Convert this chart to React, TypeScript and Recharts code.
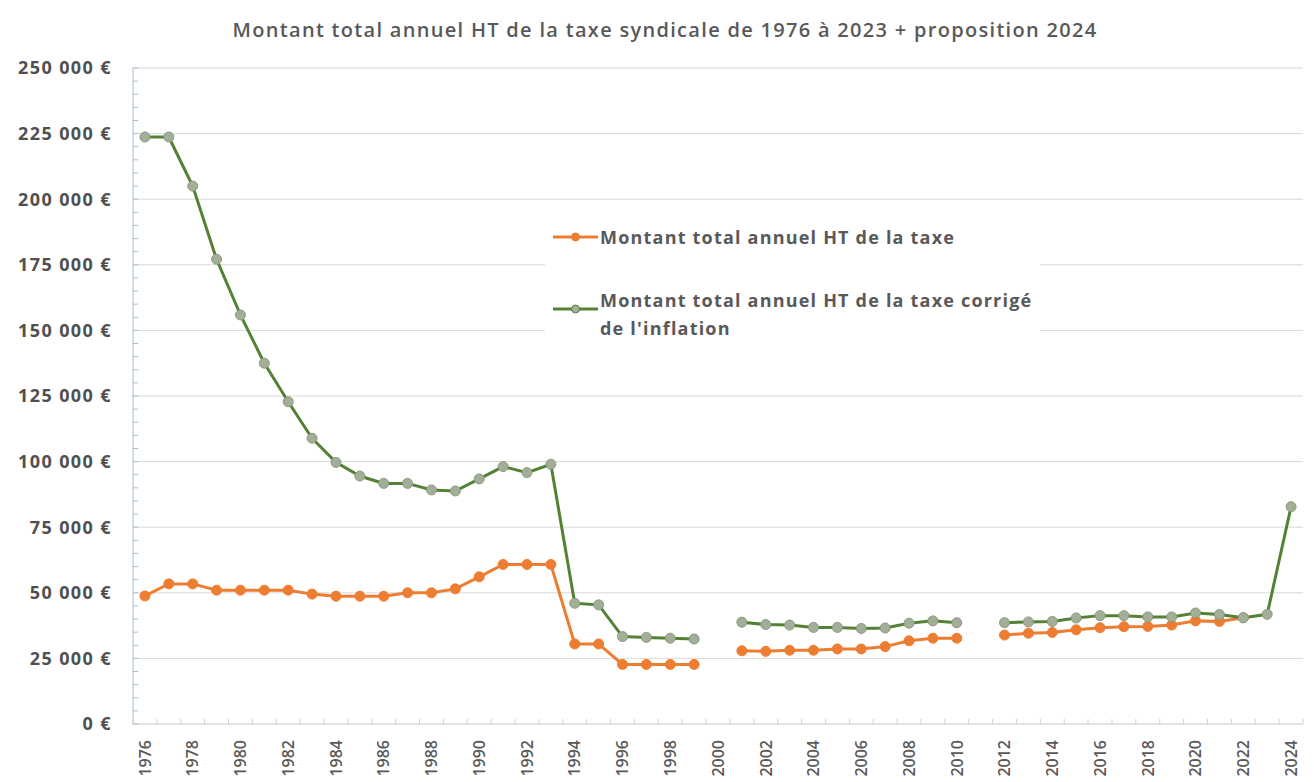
import { LineChart, Line, XAxis, YAxis, CartesianGrid } from "recharts";

const years = [
  1976, 1977, 1978, 1979, 1980, 1981, 1982, 1983, 1984, 1985, 1986, 1987,
  1988, 1989, 1990, 1991, 1992, 1993, 1994, 1995, 1996, 1997, 1998, 1999,
  2000, 2001, 2002, 2003, 2004, 2005, 2006, 2007, 2008, 2009, 2010, 2011,
  2012, 2013, 2014, 2015, 2016, 2017, 2018, 2019, 2020, 2021, 2022, 2023,
  2024,
];

// montant total annuel HT (€)
const taxe = [
  48800, 53400, 53400, 51000, 51000, 51000, 51000, 49500, 48700, 48700, 48700, 50000,
  50000, 51500, 56100, 60800, 60800, 60800, 30500, 30500, 22700, 22700, 22700, 22700,
  null, 27900, 27700, 28100, 28100, 28600, 28600, 29500, 31700, 32700, 32700, null,
  33900, 34600, 34900, 35900, 36700, 37100, 37200, 37700, 39300, 39100, 40500, null,
  null,
];

// même montant corrigé de l'inflation (€)
const taxeCorrigee = [
  223700, 223700, 205000, 177100, 155900, 137500, 122800, 108900, 99700, 94500, 91700, 91700,
  89200, 88800, 93400, 98100, 95800, 99000, 46000, 45400, 33300, 33000, 32700, 32400,
  null, 38800, 37900, 37700, 36800, 36800, 36400, 36600, 38400, 39300, 38600, null,
  38600, 38900, 39100, 40400, 41300, 41300, 40800, 40800, 42300, 41700, 40500, 41800,
  82800,
];

const majorTicks = [0, 25000, 50000, 75000, 100000, 125000, 150000, 175000, 200000, 225000, 250000];
const minorTicks = majorTicks.flatMap((v, i) =>
  i === 0 ? [v] : [1, 2, 3, 4, 5].map((k) => majorTicks[i - 1] + k * 5000)
);

const title = "Montant total annuel HT de la taxe syndicale de 1976 à 2023 + proposition 2024";
const legendNames = [
  "Montant total annuel HT de la taxe",
  "Montant total annuel HT de la taxe corrigé de l'inflation",
];

const data = years.map((year, i) => ({ year, taxe: taxe[i], corrigee: taxeCorrigee[i] }));

const W = 1314;
const H = 782;
const LEFT = 133;
const RIGHT = 11;
const HALF = (W - LEFT - RIGHT) / years.length / 2;

const ORANGE = "#ED7D31";
const GREEN = "#548235";
const FONT = "'Open Sans', sans-serif";

const fmt = (v: number) => String(v).replace(/\B(?=(\d{3})+(?!\d))/g, " ") + " €";

const YTick = ({ x, y, payload }: any) => {
  const v = payload.value;
  return (
    <g>
      <line x1={x} x2={x + 5} y1={y} y2={y} stroke="#A9BCD9" />
      {v % 25000 === 0 && (
        <text
          x={x - 21}
          y={y}
          dy="0.35em"
          textAnchor="end"
          fontSize={18}
          fontWeight={700}
          letterSpacing={1.4}
          fill="#505050"
          fontFamily={FONT}
        >
          {fmt(v)}
        </text>
      )}
    </g>
  );
};

const XTick = ({ x, y, payload }: any) => {
  const yr = payload.value;
  const ly = y + 16;
  return (
    <g>
      <line x1={x - HALF} x2={x - HALF} y1={y} y2={y - 5} stroke="#D0D0D0" />
      {yr === years[years.length - 1] && (
        <line x1={x + HALF} x2={x + HALF} y1={y} y2={y - 5} stroke="#D0D0D0" />
      )}
      {yr % 2 === 0 && (
        <text
          x={x}
          y={ly}
          dy="0.36em"
          textAnchor="end"
          transform={`rotate(-90 ${x} ${ly})`}
          fontSize={16}
          fontWeight={600}
          fill="#595959"
          fontFamily={FONT}
        >
          {yr}
        </text>
      )}
    </g>
  );
};

const LegendMark = ({ color, fill }: { color: string; fill: string }) => (
  <svg width={47} height={12} style={{ flexShrink: 0 }}>
    <line x1={1} x2={46} y1={6} y2={6} stroke={color} strokeWidth={3} />
    <circle cx={23.5} cy={6} r={4} fill={fill} stroke={color} strokeWidth={1} />
  </svg>
);

export default function App() {
  return (
    <div style={{ position: "absolute", left: 0, top: 0, width: W, height: H, background: "#fff" }}>
      <LineChart width={W} height={H} data={data} margin={{ top: 68, right: RIGHT, left: 0, bottom: 0 }}>
        <CartesianGrid vertical={false} horizontalValues={majorTicks} stroke="#D9D9D9" />
        <XAxis
          dataKey="year"
          type="number"
          domain={[1975.5, 2024.5]}
          ticks={years}
          interval={0}
          tickSize={0}
          tickMargin={0}
          tickLine={false}
          tick={<XTick />}
          axisLine={{ stroke: "#D9D9D9" }}
          height={58}
        />
        <YAxis
          domain={[0, 250000]}
          ticks={minorTicks}
          interval={0}
          tickSize={0}
          tickMargin={0}
          tickLine={false}
          tick={<YTick />}
          axisLine={{ stroke: "#A9BCD9" }}
          width={LEFT}
        />
        <Line
          dataKey="taxe"
          stroke={ORANGE}
          strokeWidth={3}
          dot={{ r: 5, fill: ORANGE, stroke: ORANGE, strokeWidth: 1 }}
          activeDot={false}
          isAnimationActive={false}
        />
        <Line
          dataKey="corrigee"
          stroke={GREEN}
          strokeWidth={3}
          dot={{ r: 5, fill: "#A3AE98", stroke: "#8A9A7E", strokeWidth: 1 }}
          activeDot={false}
          isAnimationActive={false}
        />
      </LineChart>

      <div
        style={{
          position: "absolute",
          left: 0,
          top: 16,
          width: 1330,
          textAlign: "center",
          fontFamily: FONT,
          fontSize: 20,
          fontWeight: 600,
          letterSpacing: 1.3,
          color: "#595959",
          lineHeight: "28px",
        }}
      >
        {title}
      </div>

      <div
        style={{
          position: "absolute",
          left: 545,
          top: 218,
          width: 495,
          height: 134,
          background: "#fff",
          fontFamily: FONT,
          fontSize: 18,
          fontWeight: 700,
          letterSpacing: 1.2,
          color: "#595959",
          lineHeight: "28px",
        }}
      >
        <div style={{ position: "absolute", left: 7, top: 5, display: "flex", alignItems: "center" }}>
          <LegendMark color={ORANGE} fill={ORANGE} />
          <span style={{ marginLeft: 1, whiteSpace: "nowrap" }}>{legendNames[0]}</span>
        </div>
        <div style={{ position: "absolute", left: 7, top: 68, display: "flex", alignItems: "flex-start" }}>
          <div style={{ paddingTop: 8 }}>
            <LegendMark color={GREEN} fill="#A3AE98" />
          </div>
          <span style={{ marginLeft: 1, width: 440 }}>{legendNames[1]}</span>
        </div>
      </div>
    </div>
  );
}
